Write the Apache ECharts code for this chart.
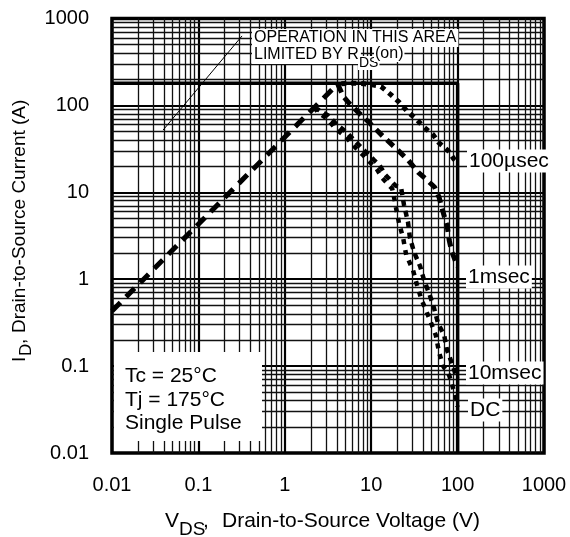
<!DOCTYPE html>
<html><head><meta charset="utf-8">
<script src="https://cdn.jsdelivr.net/npm/echarts@6/dist/echarts.min.js"></script>
<style>html,body{margin:0;padding:0;background:#fff}#c{width:570px;height:537px}</style>
</head><body><div id="c"></div>
<script>
// ---- data ----
const xTickLabels = ['0.01','0.1','1','10','100','1000'];
const yTickLabels = ['0.01','0.1','1','10','100','1000'];
const decades = [0.01, 0.1, 1, 10, 100];
const minorSteps = [2,3,4,5,6,7,8,9];

const rdsV = [0.01, 4.1];
const rdsI = [0.43, 177];

const limitV = [0.01, 100, 100];
const limitI = [180, 180, 0.01];

const us100V = [4.5, 6.5, 9.2, 13, 17, 21, 26, 33, 41, 52, 61, 78, 91, 100];
const us100I = [178, 180, 176, 165, 132, 109, 86, 70, 56, 46, 37, 30, 24, 22];

const ms1V = [4.1, 4.8, 5.6, 7.2, 9.4, 13.7, 19.4, 26.7, 35, 43, 54, 61, 68, 76, 80, 86, 100];
const ms1I = [175, 125, 105, 82, 64, 44, 32, 23.5, 17, 14.2, 11.5, 8.8, 5.9, 4, 2.8, 2.05, 1.4];

const ms10V = [2.2, 2.5, 3.2, 4, 5.2, 6.8, 8.4, 10.8, 12.5, 14.5, 19, 22.2, 24, 26.7, 28, 31.3, 36.8, 41, 48, 53.5, 59.5, 70, 75.5, 86, 96, 100];
const ms10I = [95, 88, 76, 60, 49, 37, 30, 23.5, 20.5, 16, 12, 11.2, 7.1, 4.5, 3.05, 2.05, 1.41, 0.97, 0.64, 0.46, 0.31, 0.226, 0.152, 0.108, 0.078, 0.072];

const dcV = [2.2, 2.4, 3.1, 3.8, 5, 6.5, 8, 10.2, 11.6, 13.5, 17.5, 18.5, 19.4, 21, 23.4, 25.4, 30.5, 34, 37.8, 43, 49, 56, 61, 68, 80, 89, 98, 100];
const dcI = [95, 84, 70, 55, 44, 33, 27, 21, 18.5, 14.5, 11, 8.5, 6.6, 4.4, 3, 1.9, 1.27, 0.85, 0.6, 0.44, 0.32, 0.226, 0.144, 0.1, 0.078, 0.055, 0.04, 0.034];

const pointerV = [0.039, 0.32];
const pointerI = [52, 630];

// ---- helpers ----
const zip = (a, b) => a.map((v, i) => [v, b[i]]);
const FONT = '"Liberation Sans", Arial, Helvetica, sans-serif';
const minorVals = [];
decades.forEach(d => minorSteps.forEach(k => minorVals.push(+(k * d).toPrecision(3))));

const gridLines = [];
minorVals.forEach(v => { gridLines.push({xAxis: v}); gridLines.push({yAxis: v}); });

function txt(x, y, text, size, opts) {
  opts = opts || {};
  return {
    type: 'text', x: x, y: y, z: opts.z || 12,
    style: Object.assign({
      text: text, font: size + 'px ' + FONT, fill: '#000',
      textAlign: opts.align || 'left', align: opts.align || 'left',
      textVerticalAlign: 'middle', verticalAlign: 'middle'
    }, opts.bg ? {backgroundColor: '#fff', padding: opts.pad || [1, 2]} : {})
  };
}

const chart = echarts.init(document.getElementById('c'), null, {renderer: 'canvas'});
chart.setOption({
  animation: false,
  backgroundColor: '#fff',
  grid: {left: 112, right: 26, top: 18.5, bottom: 84, show: true, borderColor: '#000', borderWidth: 3.5, backgroundColor: 'transparent'},
  xAxis: {
    type: 'log', logBase: 10, min: 0.01, max: 1000, splitNumber: 5,
    axisLine: {show: false}, axisTick: {show: false},
    axisLabel: {fontSize: 20, fontFamily: FONT, color: '#000', margin: 22,
      formatter: (v, i) => xTickLabels[i]},
    splitLine: {show: true, lineStyle: {color: '#000', width: 2.2}}
  },
  yAxis: {
    type: 'log', logBase: 10, min: 0.01, max: 1000, splitNumber: 5,
    axisLine: {show: false}, axisTick: {show: false},
    axisLabel: {fontSize: 20, fontFamily: FONT, color: '#000', margin: 23,
      formatter: (v, i) => yTickLabels[i]},
    splitLine: {show: true, lineStyle: {color: '#000', width: 2.2}}
  },
  series: [
    {type: 'line', name: 'grid', data: [[0.01, 0.01]], symbol: 'none', z: 1,
     lineStyle: {opacity: 0}, silent: true,
     markLine: {silent: true, symbol: ['none', 'none'], label: {show: false}, z: 1,
       lineStyle: {type: 'solid', color: '#111', width: 1.3}, emphasis: {disabled: true},
       data: gridLines}},
    {type: 'line', name: 'limit', data: zip(limitV, limitI), symbol: 'none', z: 3,
     lineStyle: {color: '#000', width: 3.5, type: 'solid'}},
    {type: 'line', name: 'RDS(on)', data: zip(rdsV, rdsI), symbol: 'none', z: 4,
     lineStyle: {color: '#000', width: 5, type: [12, 8], cap: 'butt'}},
    {type: 'line', name: '100µsec', data: zip(us100V, us100I), symbol: 'none', z: 4,
     lineStyle: {color: '#000', width: 5, type: [5, 5], cap: 'butt'}},
    {type: 'line', name: '1msec', data: zip(ms1V, ms1I), symbol: 'none', z: 4,
     lineStyle: {color: '#000', width: 5, type: [9, 6], cap: 'butt'}},
    {type: 'line', name: '10msec', data: zip(ms10V, ms10I), symbol: 'none', z: 4,
     lineStyle: {color: '#000', width: 4.5, type: [6, 5], cap: 'butt'}},
    {type: 'line', name: 'DC', data: zip(dcV, dcI), symbol: 'none', z: 4,
     lineStyle: {color: '#000', width: 4.5, type: [5, 6], cap: 'butt'}},
    {type: 'line', name: 'pointer', data: zip(pointerV, pointerI), symbol: 'none', z: 4,
     lineStyle: {color: '#000', width: 1, type: 'solid'}}
  ],
  graphic: [
    {type: 'rect', z: 10, shape: {x: 114, y: 352, width: 148, height: 89}, style: {fill: '#fff'}},
    txt(125, 376, 'Tc = 25°C', 21),
    txt(125, 400, 'Tj = 175°C', 21),
    txt(125, 423, 'Single Pulse', 21),
    txt(252, 38, 'OPERATION IN THIS AREA', 16, {bg: true}),
    txt(252, 55, 'LIMITED BY R', 16, {bg: true}),
    txt(358, 63, 'DS', 14, {bg: true, pad: [0, 1]}),
    txt(374, 54, '(on)', 16, {bg: true, pad: [0, 1]}),
    txt(467, 161, '100µsec', 21, {bg: true}),
    txt(466, 277, '1msec', 21, {bg: true}),
    txt(466, 373, '10msec', 21, {bg: true}),
    txt(468, 410, 'DC', 21, {bg: true}),
    txt(165, 521, 'V', 21),
    txt(179, 530, 'DS', 19),
    txt(203, 521, ',', 21),
    txt(222, 521, 'Drain-to-Source Voltage (V)', 21),
    {type: 'group', x: 20, y: 362, rotation: Math.PI / 2, children: [
      txt(0, 0, 'I', 19),
      txt(6, 6, 'D', 17),
      txt(18, 0, ',', 19),
      txt(29, 0, 'Drain-to-Source Current (A)', 19)
    ]}
  ]
});
</script></body></html>
